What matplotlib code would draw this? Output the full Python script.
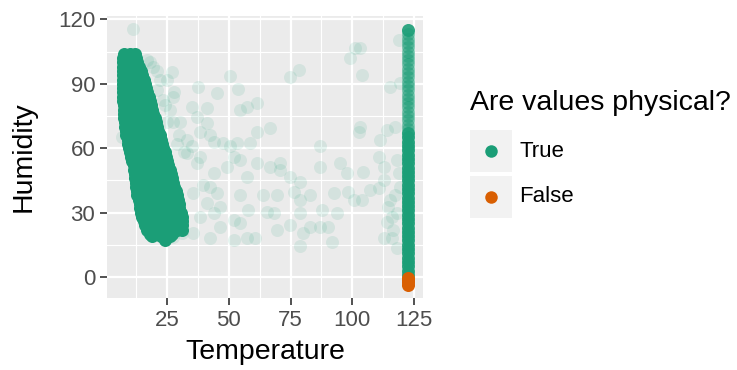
import matplotlib.pyplot as plt
from matplotlib.patches import Rectangle
from matplotlib.lines import Line2D

plt.rcParams['font.family'] = ['Liberation Sans', 'DejaVu Sans']

GREEN = '#1B9E77'
ORANGE = '#D95F02'

# dense core of the cloud (saturated): one humidity level per row, temperatures along it
blob_hum = [104, 102, 100, 98, 96, 94, 92, 90, 88, 86, 84, 82, 80, 78, 76, 74, 72, 70, 68, 66, 64,
            62, 60, 58, 56, 54, 52, 50, 48, 46, 44, 42, 40, 38, 36, 34, 32, 30, 28, 26, 24, 22,
            20, 19, 17]
blob_temp = [
    [7.5, 10, 12], [7, 9, 11, 12.5], [7, 10, 13], [7, 8.5, 11.5, 13.5],
    [7, 10, 12.5, 14.5], [7, 8.5, 11.5, 14, 15], [7, 10, 13, 15.5], [7, 8.5, 11.5, 14.5, 16],
    [7, 10, 13.5, 16.5], [7, 8.5, 11.5, 15, 17], [7, 10, 13.5, 17.5], [7, 9, 12, 15.5, 18],
    [7.5, 11, 15, 18.5], [7.5, 9, 13, 17, 19], [7.5, 11, 15, 19.5], [7.5, 10, 14, 18, 20],
    [8, 12, 16, 20.5], [8, 10, 14, 17.5, 21], [8.5, 12, 16, 19, 21.5],
    [8.5, 10.5, 14, 17.5, 20.5, 22], [9, 12.5, 16, 19.5, 22.5], [9, 11, 14.5, 18, 21.5, 23],
    [9.5, 13, 16.5, 20, 23.5], [10, 11.5, 15, 18.5, 22, 24], [10.5, 14, 17.5, 21, 24.5],
    [11, 12.5, 16, 19.5, 23, 25], [11.5, 15, 18.5, 22, 25.5], [11.5, 13.5, 17, 21, 24.5, 26],
    [12, 15.5, 19, 23, 26.5], [12, 14, 17.5, 22, 25.5, 27], [12.5, 16, 20, 24, 27.5],
    [12.5, 14.5, 18.5, 22.5, 26, 28], [13, 16.5, 20.5, 24.5, 28.5], [13, 15, 19, 23, 27, 29],
    [13.5, 17, 21, 25, 29.5], [14, 15.5, 19.5, 23.5, 28, 30], [14, 17.5, 21.5, 26, 30],
    [14.5, 16.5, 20.5, 24.5, 29, 30.5], [15, 18.5, 22.5, 27, 31], [15.5, 17, 21, 25, 29, 31],
    [16, 19.5, 23, 27, 31], [17, 19.5, 22, 25.5, 29, 31], [18, 21, 24, 27], [19, 22.5, 26],
    [24],
]

# sensor stuck at max temperature
col_temp = 122.5
col_dense_hum = [1, 3, 5, 7, 9, 11, 13, 15, 17, 19, 21, 23, 25, 27, 29, 31, 33, 35, 37, 39, 41, 43,
                 45, 47, 49, 51, 53, 55, 57, 59, 61, 63, 65, 67, 115]
col_mid_hum = [69, 71, 73, 75, 77, 79, 81, 83, 85, 87, 89, 91, 93, 95, 97, 99, 101, 103, 105, 107,
               109, 111, 113]
false_hum = [-0.5, -1.5, -2.5, -3.8]

# scattered faint points
sparse_temp = [11.1, 16.8, 19.5, 22.2, 26.9, 20.8, 23.5, 27.6, 37.7, 45.1, 50.5, 53.9, 35, 41.1, 54.6,
               57.3, 61.3, 66.7, 27.6, 30.3, 24.9, 37, 41.1, 38.4, 42.4, 33, 35, 43.8, 47.8, 50.5,
               53.2, 58.6, 61.3, 33, 37, 38.4, 49.2, 51.9, 54.6, 61.3, 66.7, 70.8, 70.8, 74.8, 78.9,
               57.3, 43.8, 39.7, 42.4, 35.7, 45.1, 54.6, 64, 69.4, 76.2, 82.9, 92.4, 98.4, 41.1,
               46.5, 38.4, 43.8, 51.9, 54.6, 46.5, 42.4, 51.9, 57.3, 60.6, 57.9, 65.4, 68.1, 69.4,
               74.8, 78.9, 78.9, 80.2, 78.9, 82.9, 86.9, 90.3, 91.7, 87.6, 93.7, 100.5, 103.8, 107.2,
               110.6, 112.6, 95, 97.7, 104.5, 110.6, 112.6, 87, 87, 103.1, 102.5, 111.3, 114, 117.3,
               99.1, 103.1, 101.1, 103.8, 74.8, 78.2, 115.3, 119.3, 118.7, 115.3, 114.6, 116, 114,
               116.6, 112.6, 116, 118, 117.3, 119.3, 118, 118.7, 118, 6.7, 27.6, 31, 35.7, 24.9, 23.5,
               18, 21, 25, 28, 26, 24, 30, 32, 29]
sparse_hum = [115.4, 101.1, 98, 91.8, 95.7, 87.2, 82.5, 84, 88.4, 85.6, 93.7, 87.5, 79.4, 78.6, 77.8,
              79.4, 80.9, 69.3, 72.4, 72.4, 72.4, 74.7, 71.6, 67.7, 66.2, 63.9, 60.8, 63.1, 62.3, 60.8,
              62.3, 62.3, 67.7, 57.6, 53, 56.1, 51.4, 56.1, 54.5, 53, 51.4, 53, 49.9, 46.8, 44.4,
              46.8, 48.3, 42.9, 42.1, 39, 39, 38.2, 38.2, 38.2, 39.8, 38.2, 39, 39.8, 34.3,
              32.8, 28.1, 29.7, 26.6, 25, 23.5, 18, 17.3, 18, 18, 31.2, 30.5, 29.7, 21.9,
              24.3, 35.9, 29.7, 20.4, 14.2, 23.5, 23.5, 23.5, 16.5, 31.2, 29.7, 35.9, 35.9, 40.6,
              41.3, 45.2, 53, 48.3, 49.1, 56.1, 51.4, 60.8, 51.4, 70.1, 67.7, 63.9, 68.5, 70.1,
              101.9, 106.6, 106.6, 94.1, 93.4, 96.5, 88.7, 90.3, 110.5, 35.9, 32.8, 28.1, 25.8,
              21.9, 18, 18, 13.4, 38.2, 42.1, 29.7, 48.3, 54.5, 65.4, 18.8, 20.4, 20.4, 54.5, 45.2,
              100, 96, 92, 86, 78, 80, 66, 58, 62]

fig = plt.figure(figsize=(7.37, 3.70), dpi=100)
ax = fig.add_axes([0.1452, 0.1946, 0.4288, 0.7622])
ax.set_facecolor('#EBEBEB')

bx, by = [], []
for h, temps in zip(blob_hum, blob_temp):
    for t in temps:
        bx.append(t)
        by.append(h)

ms = 88
ax.scatter(sparse_temp, sparse_hum, s=ms, color=GREEN, alpha=0.11, linewidths=0, zorder=3)
ax.scatter(bx, by, s=ms, color=GREEN, alpha=1, linewidths=0, zorder=4)
ax.scatter([col_temp] * len(col_mid_hum), col_mid_hum, s=ms, color=GREEN, alpha=0.5, linewidths=0, zorder=4)
ax.scatter([col_temp] * len(col_dense_hum), col_dense_hum, s=ms, color=GREEN, alpha=0.9, linewidths=0, zorder=4)
ax.scatter([col_temp] * len(false_hum), false_hum, s=ms, color=ORANGE, alpha=1, linewidths=0, zorder=5)

ax.set_xlim(0.7, 128.6)
ax.set_ylim(-9.8, 121.6)
ax.set_xticks([25, 50, 75, 100, 125])
ax.set_yticks([0, 30, 60, 90, 120])
ax.set_xticks([12.5, 37.5, 62.5, 87.5, 112.5], minor=True)
ax.set_yticks([15, 45, 75, 105], minor=True)
ax.grid(which='major', color='white', linewidth=1.6, zorder=0)
ax.grid(which='minor', color='white', linewidth=0.8, zorder=0)
ax.set_axisbelow(True)
for s in ax.spines.values():
    s.set_visible(False)
ax.tick_params(which='major', length=5, width=1.2, color='#333333', labelcolor='#4D4D4D',
               labelsize=16, pad=3.5)
ax.tick_params(which='minor', length=0)
ax.set_xlabel('Temperature', fontsize=20.5, color='black', labelpad=6)
ax.set_ylabel('Humidity', fontsize=20.5, color='black', labelpad=15)

# legend drawn by hand, ggplot style
fig.text(470 / 737, 1 - 103 / 370, 'Are values physical?', fontsize=20.5, va='center', ha='left')
keys = [('True', GREEN, 151), ('False', ORANGE, 197)]
for lab, col, yc in keys:
    fig.add_artist(Rectangle((470 / 737, 1 - (yc + 21) / 370), 42 / 737, 42 / 370,
                             transform=fig.transFigure, facecolor='#F2F2F2', edgecolor='none'))
    fig.add_artist(Line2D([491 / 737], [1 - yc / 370], marker='o', markersize=9, color=col,
                          markeredgewidth=0, transform=fig.transFigure))
    fig.text(519 / 737, 1 - yc / 370, lab, fontsize=16, va='center', ha='left')

fig.savefig('out.png', dpi=100)
